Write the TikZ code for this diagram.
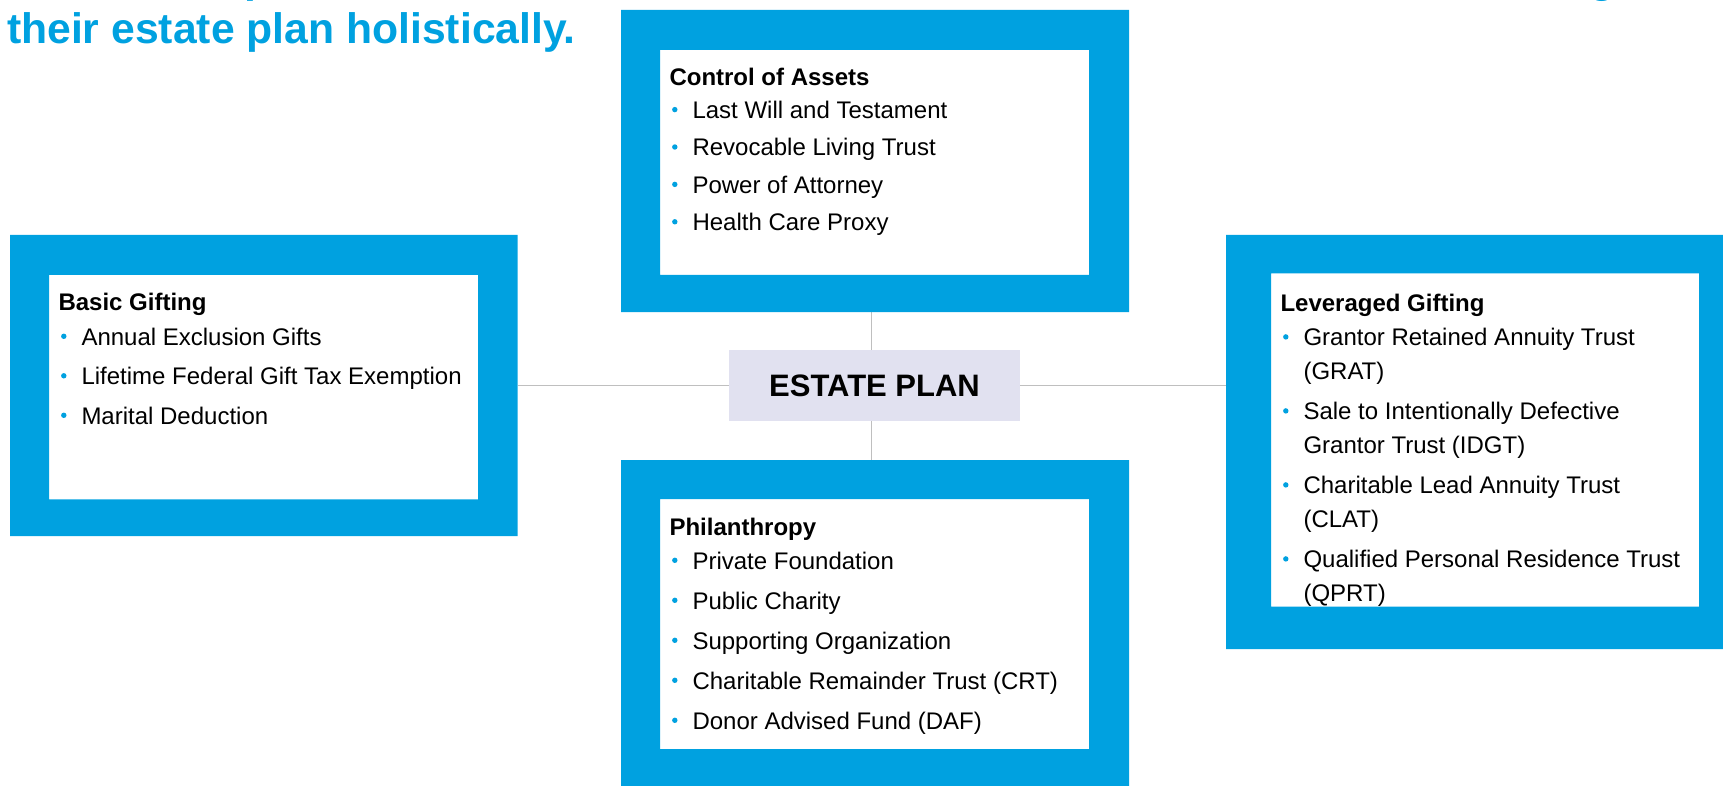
\documentclass[tikz,border=0pt]{standalone}
\usepackage{fontspec}
\setmainfont{Liberation Sans}
\usetikzlibrary{calc}
\definecolor{frameblue}{RGB}{0,161,224}
\definecolor{hubfill}{RGB}{225,225,240}
\definecolor{linkgray}{RGB}{191,191,191}
\tikzset{
  outerbox/.style={rectangle, draw=none, inner sep=0pt, outer sep=0pt},
  innerbox/.style={rectangle, fill=white, inner sep=0pt, outer sep=0pt},
  hub/.style={rectangle, fill=hubfill, inner sep=0pt, outer sep=0pt,
    font=\fontsize{31}{36}\bfseries\selectfont},
  hd/.style={anchor=base west, inner sep=0pt, outer sep=0pt,
    font=\fontsize{24}{28}\bfseries\selectfont},
  itm/.style={anchor=base west, inner sep=0pt, outer sep=0pt,
    font=\fontsize{24}{28}\selectfont},
  titletext/.style={anchor=base west, inner sep=0pt, outer sep=0pt,
    text=frameblue, font=\fontsize{42.7}{50}\bfseries\selectfont},
  link/.style={draw=linkgray, line width=1.5pt},
}
% blue ring between an outer and an inner box
\newcommand\ringfill[2]{%
  \fill[frameblue, even odd rule] (#1.north west) rectangle (#1.south east)
    (#2.north west) rectangle (#2.south east);}
% one bullet line: name, x, baseline y, text
\newcommand\bline[4]{%
  \node[itm] (#1) at (#2,#3) {#4};
  \fill[frameblue] ($(#1.base west)+(-17.7,-9)$) circle (2.7);}
\begin{document}
\begin{tikzpicture}[x=1pt,y=-1pt]
\useasboundingbox (0,0) rectangle (1723,786);
\clip (0,0) rectangle (1723,786);

% title lines (the upper one runs off the top edge)
\node[titletext] (tfragp) at (244,-7.5) {p};
\node[titletext] (tfragg) at (1589,-7.5) {g};
\node[titletext] (title) at (7,44) {their estate plan holistically.};

% boxes
\node[outerbox, minimum width=508pt, minimum height=302pt] (ctrl) at (875,161) {};
\node[innerbox, minimum width=429pt, minimum height=225pt] (ctrlin) at (874.5,162.5) {};
\node[outerbox, minimum width=507.6pt, minimum height=301pt] (basic) at (263.8,385.5) {};
\node[innerbox, minimum width=429pt, minimum height=224.3pt] (basicin) at (263.5,387.15) {};
\node[outerbox, minimum width=512pt, minimum height=414pt] (lev) at (1482,442) {};
\node[innerbox, minimum width=428pt, minimum height=333.4pt] (levin) at (1485,440) {};
\node[outerbox, minimum width=508pt, minimum height=327pt] (phil) at (875,623.5) {};
\node[innerbox, minimum width=429pt, minimum height=250pt] (philin) at (874.5,624) {};

% hub and connectors
\node[hub, minimum width=291pt, minimum height=71pt] (plan) at (874.5,385.5) {ESTATE PLAN};
\draw[link] (plan.west) -- (plan.west -| basic.east);
\draw[link] (plan.east) -- (plan.east -| lev.west);
\draw[link] ([xshift=-3pt]plan.north) -- ([xshift=-3pt]plan.north |- ctrl.south);
\draw[link] ([xshift=-3pt]plan.south) -- ([xshift=-3pt]plan.south |- phil.north);

% Control of Assets
\node[hd] (ctrlhd) at (669.5,85.6) {Control of Assets};
\bline{c1}{692.5}{118.6}{Last Will and Testament}
\bline{c2}{692.5}{156.0}{Revocable Living Trust}
\bline{c3}{692.5}{193.4}{Power of Attorney}
\bline{c4}{692.5}{230.8}{Health Care Proxy}

% Basic Gifting
\node[hd] (basichd) at (58.5,310.3) {Basic Gifting};
\bline{b1}{81.5}{345.3}{Annual Exclusion Gifts}
\bline{b2}{81.5}{384.8}{Lifetime Federal Gift Tax Exemption}
\bline{b3}{81.5}{424.3}{Marital Deduction}

% Leveraged Gifting
\node[hd] (levhd) at (1280.5,311.3) {Leveraged Gifting};
\bline{l1}{1303.5}{345.9}{Grantor Retained Annuity Trust}
\node[itm] (l1b) at (1303.5,379.6) {(GRAT)};
\bline{l2}{1303.5}{419.9}{Sale to Intentionally Defective}
\node[itm] (l2b) at (1303.5,453.6) {Grantor Trust (IDGT)};
\bline{l3}{1303.5}{493.9}{Charitable Lead Annuity Trust}
\node[itm] (l3b) at (1303.5,527.6) {(CLAT)};
\bline{l4}{1303.5}{567.9}{Qualified Personal Residence Trust}
\node[itm] (l4b) at (1303.5,601.6) {(QPRT)};

% Philanthropy
\node[hd] (philhd) at (669.5,535.9) {Philanthropy};
\bline{p1}{692.5}{569.3}{Private Foundation}
\bline{p2}{692.5}{609.3}{Public Charity}
\bline{p3}{692.5}{649.3}{Supporting Organization}
\bline{p4}{692.5}{689.3}{Charitable Remainder Trust (CRT)}
\bline{p5}{692.5}{729.3}{Donor Advised Fund (DAF)}

% blue frames drawn last so they trim overflowing text
\ringfill{ctrl}{ctrlin}
\ringfill{basic}{basicin}
\ringfill{lev}{levin}
\ringfill{phil}{philin}
\end{tikzpicture}
\end{document}
